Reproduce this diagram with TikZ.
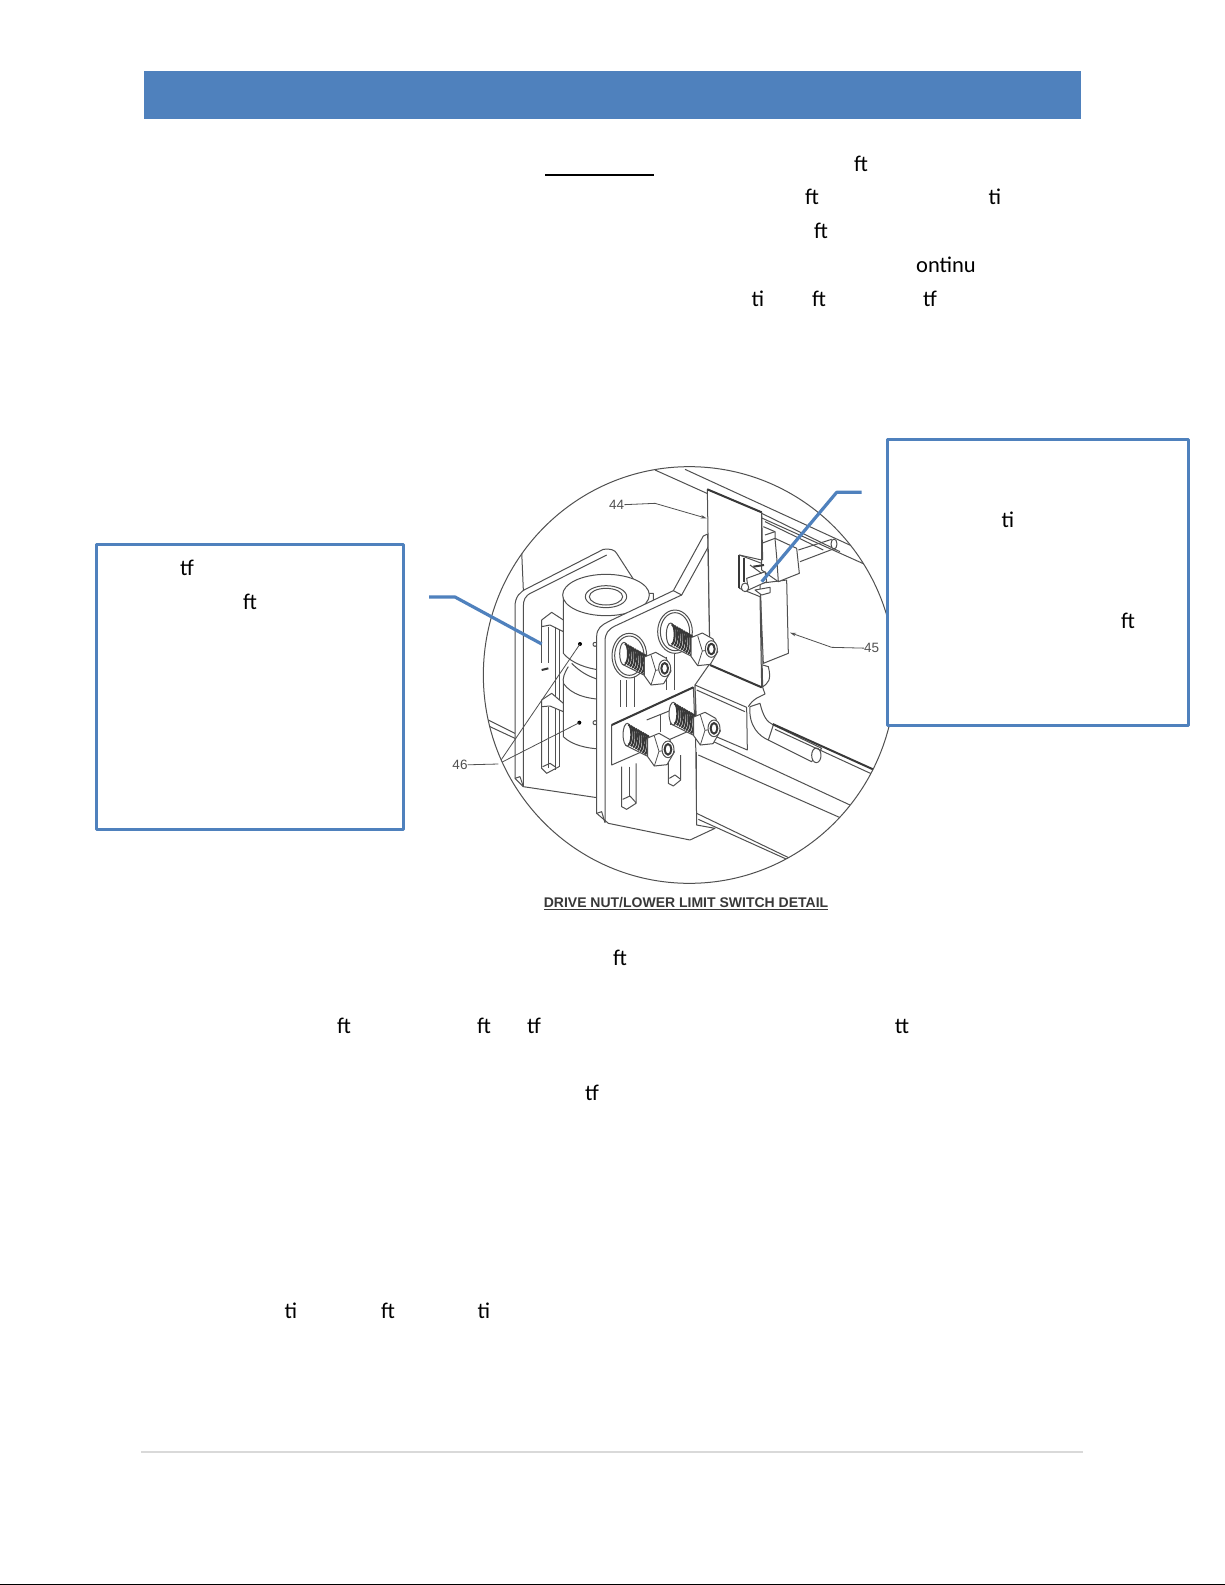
\documentclass[tikz,border=0pt]{standalone}
\usepackage{fontspec}
\usetikzlibrary{arrows.meta}
\setmainfont{Carlito}
\newfontfamily\capfont{Liberation Sans}
\definecolor{hdrblue}{HTML}{4F81BD}
\definecolor{ink}{HTML}{505050}
\tikzset{
  frag/.style={anchor=base,inner sep=0pt,font=\fontsize{22.5pt}{26pt}\selectfont},
  calloutbox/.style={draw=hdrblue,line width=3.4pt,fill=white,line join=round,inner sep=0pt},
  calloutline/.style={draw=hdrblue,line width=3.2pt,line join=round},
  detail/.style={draw=ink,line width=1pt,line join=round},
  heavy/.style={draw=ink!70!black,line width=2pt,line join=round},
  thinl/.style={draw=ink,line width=0.8pt},
  plate/.style={detail,fill=white},
  partno/.style={inner sep=0pt,text=ink,font=\capfont\fontsize{13.5pt}{15pt}\selectfont},
  boltpic/.pic={
    \draw[plate] (-8,-30) -- (60,4) -- (60,66) -- (-8,32) -- cycle;
    \draw[plate] (-3,0) ellipse [x radius=13,y radius=34];
    \foreach \t in {0,...,8}{
      \draw[heavy] (\t*7,\t*4-30) arc [start angle=-90,end angle=90,x radius=9,y radius=30];
    }
    \draw[plate] (58,10) -- (92,-4) -- (124,14) -- (138,52) -- (116,90) -- (78,94) -- (58,66) -- cycle;
    \draw[thinl] (78,4) -- (92,50) -- (78,94);
    \draw[thinl] (92,50) -- (130,44);
    \draw[plate] (119,44) ellipse [x radius=18,y radius=25];
    \draw[heavy] (119,44) ellipse [x radius=10,y radius=16];
  }
}
\begin{document}
\begin{tikzpicture}[x=1pt,y=-1pt]
\useasboundingbox (0,0) rectangle (1225,1585);
\fill[white] (0,0) rectangle (1225,1585);
% header
\node[fill=hdrblue,inner sep=0pt,minimum width=936.5pt,minimum height=48pt,anchor=north west] (header) at (144,71) {};
% underline in the paragraph
\coordinate (ulA) at (545,175); \coordinate (ulB) at (654,175);
\draw[black,line width=2pt] (ulA) -- (ulB);
% first paragraph fragments
\node[frag] (p1a) at (861,171) {ft};
\node[frag] (p2a) at (812,204.5) {ft};
\node[frag] (p2b) at (995,204.5) {ti};
\node[frag] (p3a) at (821,238) {ft};
\node[frag] (p4a) at (946,272) {ontinu};
\node[frag] (p5a) at (758,306) {ti};
\node[frag] (p5b) at (819,306) {ft};
\node[frag] (p5c) at (930,306) {tf};
% drawing
\begin{scope}[shift={(440,450)},x=0.33333pt,y=-0.33333pt]
\coordinate (cc) at (748,675);
\begin{scope}
\clip (cc) ellipse [x radius=618,y radius=625];
% back rails
\draw[detail] (645,60) -- (1290,350);
\draw[detail] (735,58) -- (1240,290);
\draw[detail] (965,190) -- (1200,305);
\draw[detail] (975,215) -- (1150,300);
% left rail
\draw[detail] (145,810) -- (225,850);
\draw[detail] (150,830) -- (225,865);
% back plate
\draw[plate] (225,985) -- (225,470) .. controls (225,440) and (240,425) .. (262,415) -- (490,298) .. controls (510,295) and (525,300) .. (530,310) -- (585,395) -- (585,1060) -- (250,1010) -- cycle;
\draw[detail] (250,1010) -- (250,470) .. controls (250,450) and (255,437) .. (275,428) -- (500,315);
\draw[detail] (245,305) -- (250,420);
\draw[detail] (225,985) -- (240,980) -- (250,1010);
% cylinder
\draw[plate] (370,430) -- (370,610) .. controls (395,640) and (440,655) .. (480,660) -- (640,660) -- (640,430) -- cycle;
\draw[plate] (370,700) -- (370,860) .. controls (395,885) and (440,895) .. (480,897) -- (600,897) -- (600,700);
\draw[detail] (370,700) .. controls (395,735) and (440,745) .. (480,748);
\draw[detail] (385,650) .. controls (372,670) and (368,685) .. (370,700);
\draw[detail] (395,640) .. controls (420,665) and (445,680) .. (480,690);
\draw[plate] (498,435) ellipse [x radius=130,y radius=62];
\draw[detail] (498,440) ellipse [x radius=62,y radius=33];
\draw[detail] (498,440) ellipse [x radius=50,y radius=25];
\draw[detail] (465,583) circle [radius=6];
\draw[detail] (465,818) circle [radius=6];
% slots of the back plate
\draw[plate] (305,510) -- (335,487) -- (370,510) -- (370,545) -- (330,525) -- (305,530) -- cycle;
\draw[detail] (305,520) -- (305,640);
\draw[detail] (325,530) -- (325,640);
\draw[detail] (345,530) -- (345,960);
\draw[detail] (357,540) -- (357,950);
\draw[heavy] (305,660) -- (325,655);
\draw[plate] (305,750) -- (335,730) -- (370,760) -- (370,785) -- (330,768) -- (305,770) -- cycle;
\draw[detail] (305,770) -- (305,955) -- (320,970) -- (357,950);
\draw[detail] (325,770) -- (325,955);
\draw[detail] (308,950) -- (330,940) -- (345,950);
% tube
\draw[detail] (810,870) -- (1230,1065);
\draw[detail] (775,915) -- (1205,1105);
\draw[detail] (770,1090) -- (770,905);
\draw[detail] (770,1090) -- (1050,1225);
\draw[detail] (775,1108) -- (1045,1230);
% switch behind the flag
\draw[plate] (960,400) -- (1040,390) -- (1045,610) -- (970,640) -- cycle;
\draw[detail] (970,230) -- (1005,245) -- (1005,265);
\draw[detail] (975,255) -- (1005,245);
\draw[detail] (1075,300) -- (1175,268);
\draw[detail] (1080,335) -- (1185,295);
\draw[plate] (1182,282) ellipse [x radius=9,y radius=15];
\draw[plate] (965,280) -- (1005,265) -- (1070,295) -- (1078,370) -- (1015,395) -- (965,360) -- cycle;
\draw[detail] (1015,395) -- (1010,320) -- (1005,265);
% rod behind the lower plate
\draw[plate] (930,770) .. controls (925,830) and (960,860) .. (985,870) -- (1115,935) -- (1145,895) -- (1000,825) .. controls (980,815) and (970,800) .. (960,760) -- cycle;
\draw[detail] (1000,825) -- (985,870);
\draw[plate] (1129,916) ellipse [x radius=14,y radius=22];
\draw[heavy] (998,822) -- (1308,962);
\draw[detail] (1005,838) -- (1302,975);
% front bracket
\draw[plate] (470,1090) -- (470,560) .. controls (470,535) and (485,525) .. (505,515) -- (700,422) -- (790,258) -- (803,252) -- (810,640) -- (765,705) -- (770,1125) -- (825,1135) -- (750,1170) -- (505,1120) -- cycle;
\draw[detail] (495,1118) -- (495,575) .. controls (495,550) and (505,538) .. (525,528) -- (725,435) -- (805,290);
\draw[detail] (700,422) -- (725,435);
\draw[detail] (470,1090) -- (485,1085) -- (495,1118);
% bracket slots
\draw[detail] (540,690) -- (540,770);
\draw[detail] (560,690) -- (560,770);
\draw[detail] (582,680) -- (582,770);
\draw[detail] (680,620) -- (680,720);
\draw[detail] (702,610) -- (702,720);
\draw[detail] (545,950) -- (545,1070) -- (560,1078) -- (588,1060) -- (588,940);
\draw[detail] (548,1048) -- (570,1038) -- (588,1058);
\draw[detail] (567,950) -- (567,1040);
\draw[detail] (685,930) -- (685,1000) -- (700,1008) -- (722,990) -- (722,915);
\draw[detail] (688,985) -- (705,975) -- (722,988);
% flag plate
\draw[plate] (802,118) -- (965,187) -- (965,330) -- (898,315) -- (898,415) -- (960,440) -- (965,712) -- (810,645) -- cycle;
\draw[heavy] (802,118) -- (965,187);
\draw[heavy] (810,645) -- (965,712);
\draw[heavy] (898,315) -- (898,415);
\draw[detail] (965,187) -- (968,330);
\draw[detail] (962,440) -- (968,712);
% limit switch lever inside the notch
\draw[detail] (898,315) -- (965,340);
\draw[heavy] (912,325) -- (912,395);
\draw[plate] (920,385) -- (975,365) -- (980,395) -- (925,420) -- cycle;
\draw[plate] (915,412) ellipse [x radius=11,y radius=13];
\draw[plate] (945,420) -- (990,412) -- (990,428) -- (965,435) -- cycle;
\draw[detail] (930,345) -- (965,370);
\draw[heavy] (940,350) -- (972,345);
% washers and upper bolts
\draw[plate] (568,617) ellipse [x radius=52,y radius=67];
\draw[detail] (568,617) ellipse [x radius=44,y radius=59];
\path (555,611) pic {boltpic};
\draw[plate] (705,545) ellipse [x radius=52,y radius=65];
\draw[detail] (705,545) ellipse [x radius=44,y radius=57];
\path (695,553) pic {boltpic};
% lower plate
\draw[plate] (765,705) -- (920,772) -- (922,900) -- (770,835) -- cycle;
\draw[detail] (770,720) -- (915,785);
\draw[plate] (515,825) -- (760,712) -- (765,835) -- (515,945) -- cycle;
\draw[heavy] (515,825) -- (760,712);
\draw[detail] (620,810) -- (690,782);
\draw[detail] (660,795) -- (660,845);
\draw[detail] (690,782) -- (690,825);
\draw[detail] (965,712) .. controls (985,700) and (995,690) .. (985,650) -- (968,645);
\draw[detail] (925,770) .. controls (940,745) and (960,740) .. (975,732) -- (968,712);
% lower bolts
\path (565,854) pic {boltpic};
\path (703,791) pic {boltpic};
% leaders to the dots
\coordinate (k46) at (175,942);
\coordinate (d1) at (420,582);
\coordinate (d2) at (418,818);
\fill[black] (d1) circle [radius=6];
\fill[black] (d2) circle [radius=6];
\draw[thinl] (k46) -- (d1);
\draw[thinl] (k46) -- (d2);
\end{scope}
\draw[detail] (cc) ellipse [x radius=618,y radius=625];
% part numbers and leaders
\node[partno] (n44) at (530,165) {44};
\node[partno] (n45) at (1295,595) {45};
\node[partno] (n46) at (60,945) {46};
\coordinate (a44) at (645,160); \coordinate (e44) at (800,205);
\coordinate (a45) at (1175,592); \coordinate (e45) at (1050,548);
\draw[thinl,-{Stealth[length=6pt,width=3.5pt]}] (n44) -- (a44) -- (e44);
\draw[thinl,-{Stealth[length=6pt,width=3.5pt]}] (n45) -- (a45) -- (e45);
\draw[thinl] (n46) -- (k46);
% caption
\node[inner sep=0pt,text=ink!70!black,font=\capfont\bfseries\fontsize{14pt}{16pt}\selectfont] (cap) at (738,1360) {\underline{DRIVE NUT/LOWER LIMIT SWITCH DETAIL}};
\end{scope}
% callout boxes
\node[calloutbox,minimum width=307pt,minimum height=285pt,anchor=north west] (boxL) at (94.8,542.8) {};
\node[calloutbox,minimum width=301pt,minimum height=286pt,anchor=north west] (boxR) at (885.8,437.8) {};
\node[frag] (bl1) at (187,575) {tf};
\node[frag] (bl2) at (250,609) {ft};
\node[frag] (br1) at (1008,527) {ti};
\node[frag] (br2) at (1128,628) {ft};
% callout lines
\coordinate (cl0) at (429,597); \coordinate (cl1) at (455,597); \coordinate (cl2) at (541.7,644);
\draw[calloutline] (cl0) -- (cl1) -- (cl2);
\coordinate (cr0) at (861.7,492.3); \coordinate (cr1) at (836.7,492.3); \coordinate (cr2) at (761.7,581.7);
\draw[calloutline] (cr0) -- (cr1) -- (cr2);
% lower paragraphs
\node[frag] (q1) at (620,965) {ft};
\node[frag] (q2a) at (344,1033) {ft};
\node[frag] (q2b) at (484,1033) {ft};
\node[frag] (q2c) at (534,1033) {tf};
\node[frag] (q2d) at (902,1033) {tt};
\node[frag] (q3) at (592,1100) {tf};
\node[frag] (q4a) at (291,1318) {ti};
\node[frag] (q4b) at (388,1318) {ft};
\node[frag] (q4c) at (484,1318) {ti};
% footer
\coordinate (fA) at (141,1452); \coordinate (fB) at (1083,1452);
\draw[draw=black!15,line width=1.5pt] (fA) -- (fB);
\coordinate (eA) at (0,1584.5); \coordinate (eB) at (1225,1584.5);
\draw[black,line width=1pt] (eA) -- (eB);
\end{tikzpicture}
\end{document}
